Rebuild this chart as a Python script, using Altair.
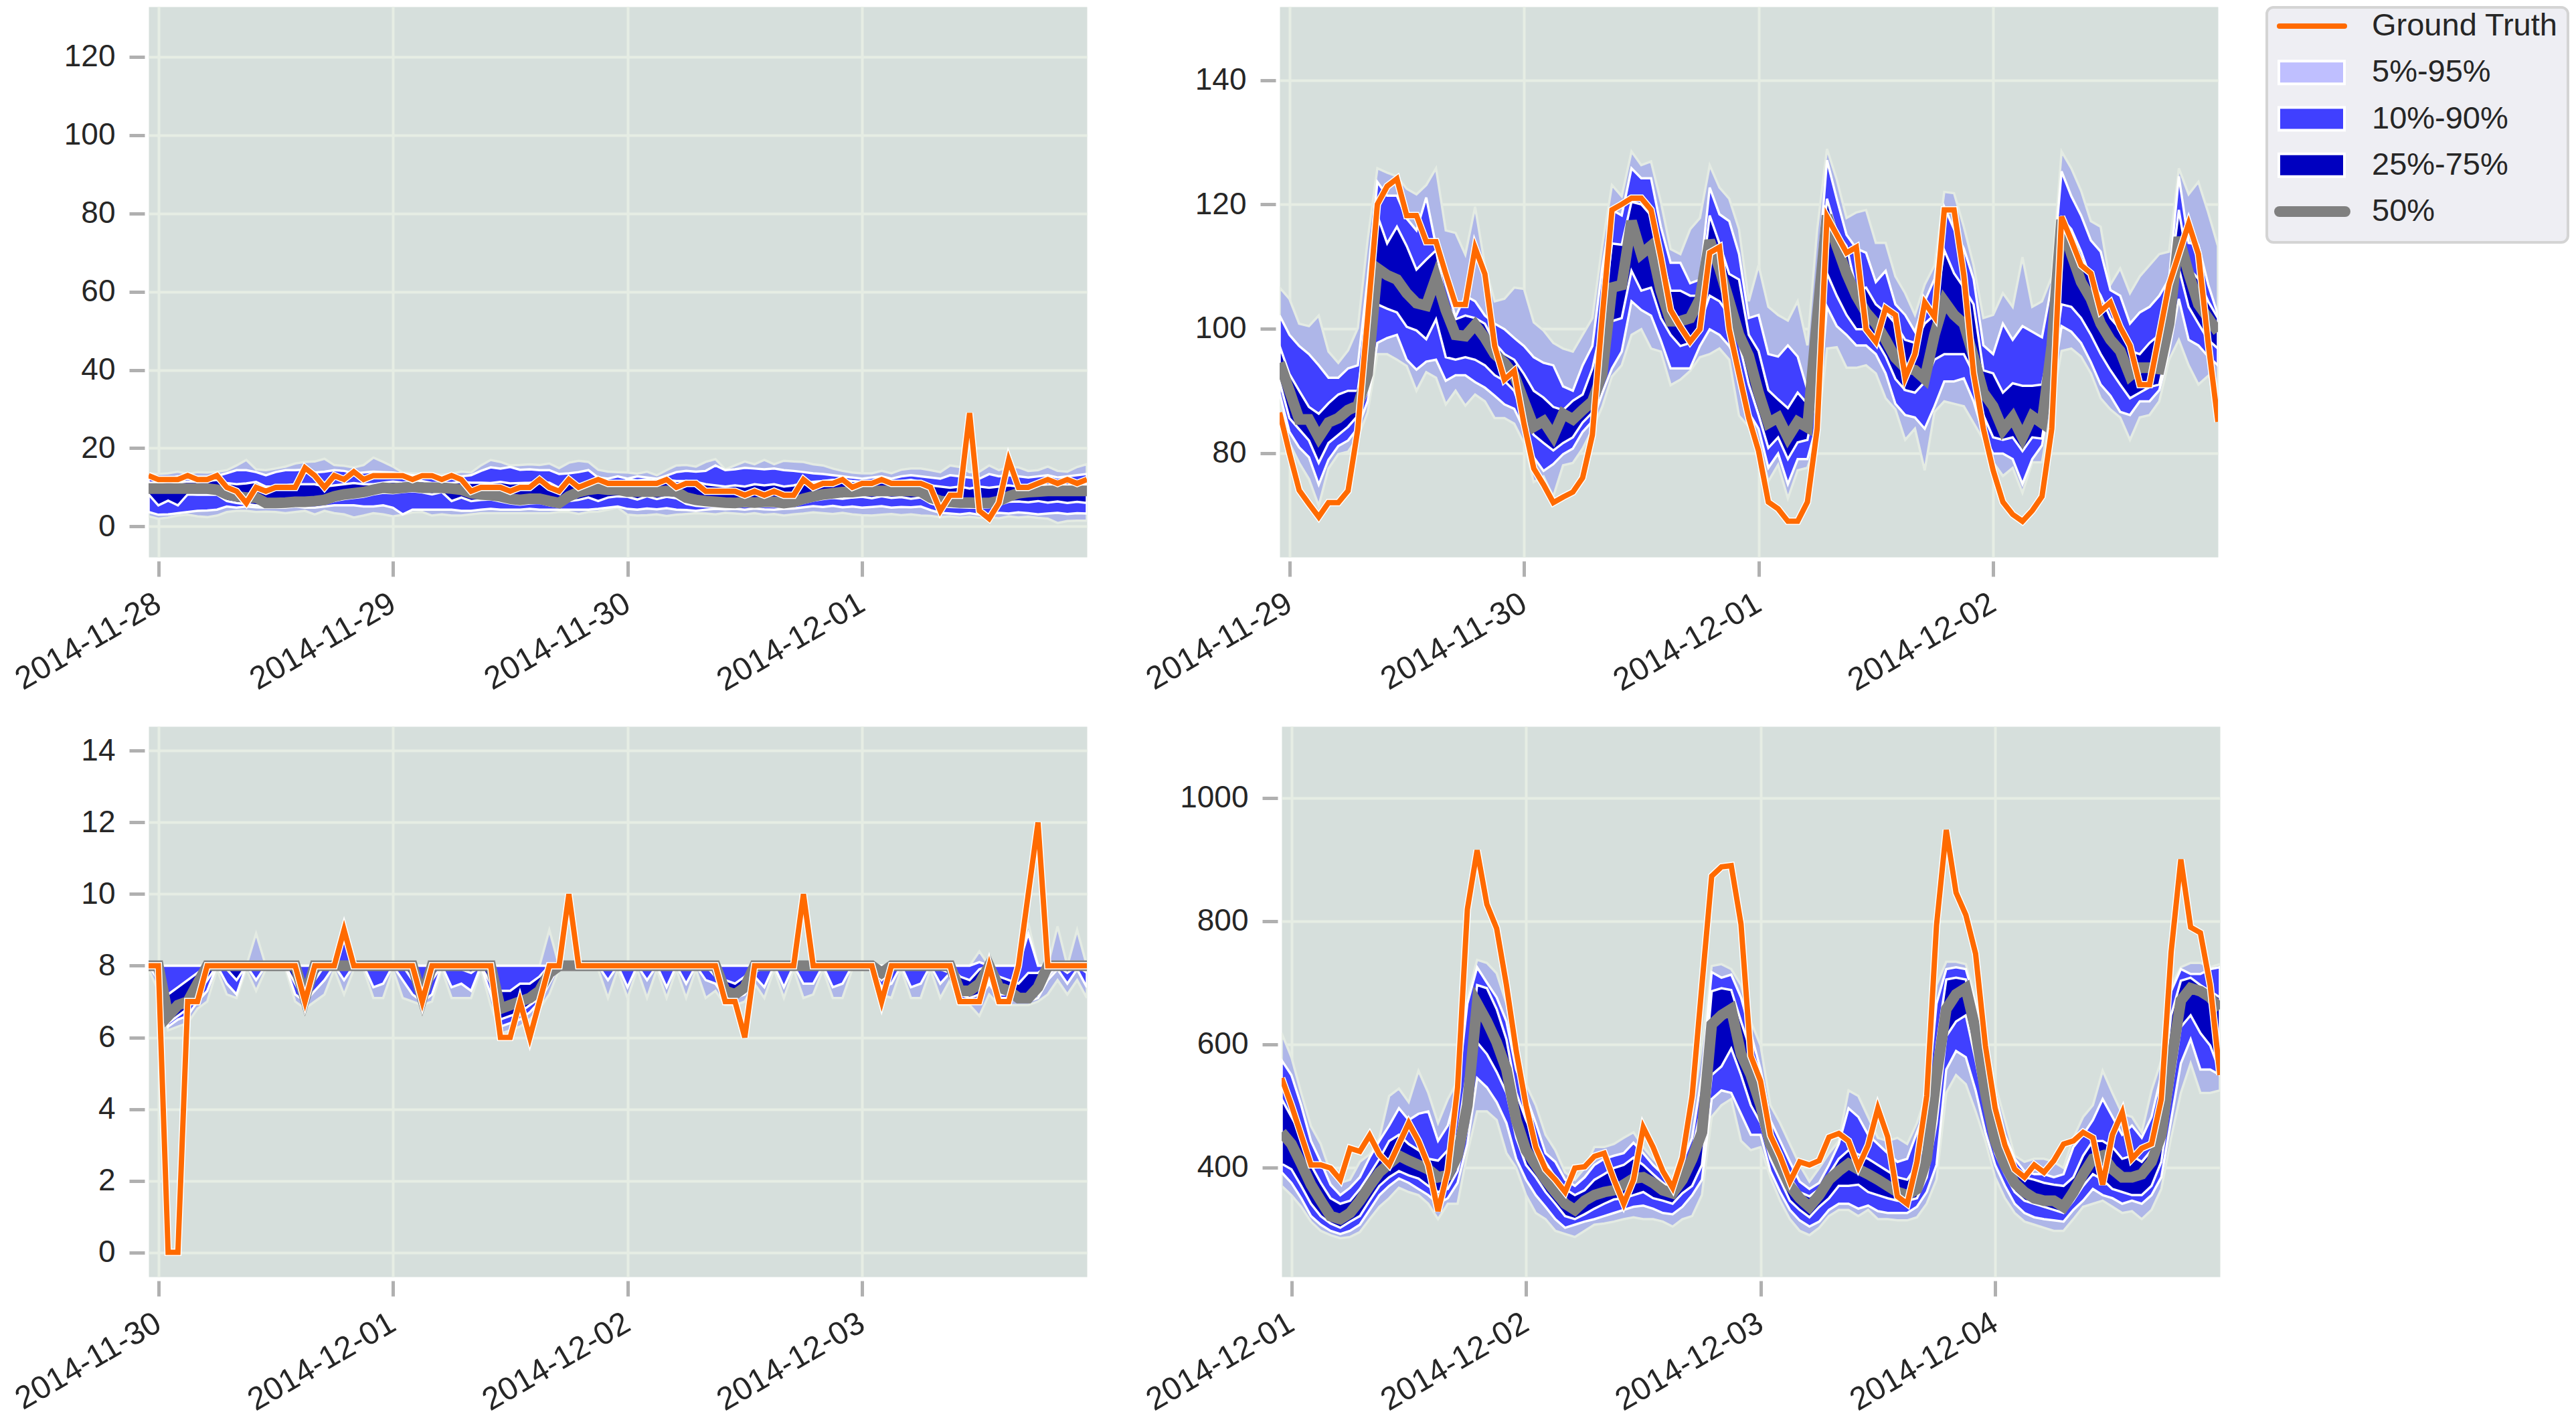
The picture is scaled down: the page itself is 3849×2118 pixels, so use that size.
import altair as alt
import pandas as pd

# ---------------- style ----------------
FONT = "Liberation Sans"
BG = "#d6dfdc"
GRID = "#e6ede4"
LIGHT = "#aeb6e8"
LIGHT_EDGE = "#e4ebe3"
MED = "#4040ff"
DARK = "#0000c0"
GRAY = "#808080"
ORANGE = "#ff6a00"

# ---------------- data ----------------
TL_START = "2014-11-27 23:00"
TR_START = "2014-11-28 23:00"
BL_START = "2014-11-29 23:00"
BR_START = "2014-11-30 23:00"

TL_DAYS = ["2014-11-28", "2014-11-29", "2014-11-30", "2014-12-01"]
TR_DAYS = ["2014-11-29", "2014-11-30", "2014-12-01", "2014-12-02"]
BL_DAYS = ["2014-11-30", "2014-12-01", "2014-12-02", "2014-12-03"]
BR_DAYS = ["2014-12-01", "2014-12-02", "2014-12-03", "2014-12-04"]

TL_YTICKS = [0, 20, 40, 60, 80, 100, 120]
TR_YTICKS = [80, 100, 120, 140]
BL_YTICKS = [0, 2, 4, 6, 8, 10, 12, 14]
BR_YTICKS = [400, 600, 800, 1000]

TL_YDOMAIN = [-7.8, 132.8]
TR_YDOMAIN = [63.25, 151.8]
BL_YDOMAIN = [-0.68, 14.68]
BR_YDOMAIN = [222.5, 1116.0]

LEGEND_LABELS = ["Ground Truth", "5%-95%", "10%-90%", "25%-75%", "50%"]
BAND_LABELS = ["5%-95%", "10%-90%", "25%-75%"]
BAND_SWATCH_COLORS = ["#bfbfff", "#4040ff", "#0000c0"]

# ---- top-left panel ----
TL_TRUTH = [13, 12, 12, 12, 13, 12, 12, 13, 10, 9,
            6, 10, 9, 10, 10, 10, 15, 13, 10, 13,
            12, 14, 12, 13, 13, 13, 13, 12, 13, 13,
            12, 13, 12, 9, 10, 10, 10, 9, 10, 10,
            12, 10, 9, 12, 10, 11, 12, 11, 11,
            11, 11, 11, 11, 12, 10, 11, 11, 9, 9,
            9, 9, 8, 9, 8, 9, 8, 8, 12, 10,
            11, 11, 12, 10, 11, 11, 12, 11, 11, 11,
            11, 10, 4, 8, 8, 29, 4, 2, 6, 17,
            10, 10, 11, 12, 11, 12, 11, 12]
TL_P50 = [9.7, 9.7, 9.7, 9.7, 9.7, 9.7, 9.7, 9.4, 8.2, 7.7,
          7.4, 7.4, 6.0, 6.0, 6.1, 6.3, 6.3, 6.5, 6.8, 7.7,
          8.2, 8.5, 8.8, 9.4, 9.9, 9.7, 9.9, 10.2, 9.9, 9.9,
          9.9, 9.7, 9.4, 8.5, 8.2, 8.0, 7.7, 7.1, 6.8, 7.1,
          7.1, 6.5, 6.0, 7.7, 8.8, 9.4, 9.7, 9.4, 9.4,
          8.9, 8.9, 8.9, 8.9, 9.1, 8.9, 7.4, 6.8, 6.5, 6.3,
          6.1, 6.0, 6.3, 6.1, 6.3, 6.3, 6.0, 6.3, 7.1, 7.7,
          8.2, 8.5, 8.8, 8.8, 9.1, 9.1, 9.1, 9.1, 9.1, 9.1,
          8.9, 7.4, 6.5, 6.3, 6.1, 6.1, 6.0, 6.0, 6.5, 7.7,
          8.5, 8.8, 8.9, 9.1, 9.1, 9.1, 9.1, 9.1]
TL_P95 = [13.6, 13.4, 13.6, 14.0, 13.4, 13.9, 13.8, 14.0, 14.4, 15.6,
          17.0, 14.6, 14.4, 14.8, 15.3, 16.1, 16.5, 16.6, 17.3, 15.7,
          15.5, 15.1, 15.7, 17.6, 16.5, 15.3, 13.8, 13.6, 13.5, 13.4,
          13.2, 13.5, 14.0, 13.8, 15.6, 17.0, 16.5, 15.6, 15.7, 15.9,
          15.7, 16.1, 14.9, 16.3, 16.8, 16.5, 14.5, 14.0, 13.9,
          13.8, 13.5, 14.0, 13.1, 14.4, 15.6, 15.7, 15.3, 16.5, 17.2,
          14.6, 15.6, 16.6, 15.9, 17.0, 15.9, 16.8, 16.6, 16.5, 15.9,
          15.6, 14.8, 14.2, 13.8, 13.6, 13.6, 14.2, 13.6, 14.5, 14.8,
          14.8, 14.4, 13.9, 15.6, 15.2, 13.9, 14.0, 15.6, 14.4, 15.2,
          15.1, 14.2, 14.4, 15.3, 14.2, 14.0, 15.2, 15.9]
TL_P90 = [12.2, 11.9, 12.2, 12.8, 12.2, 12.7, 12.7, 12.9, 13.6, 14.4,
          14.4, 13.9, 13.1, 13.9, 14.4, 14.4, 14.5, 13.8, 14.0, 14.4,
          14.2, 13.6, 13.8, 14.0, 13.9, 13.8, 13.4, 13.1, 12.8, 13.1,
          12.7, 13.2, 12.8, 13.1, 14.2, 15.1, 14.8, 15.2, 14.5, 14.6,
          14.4, 14.4, 13.4, 13.6, 13.9, 14.4, 12.5, 12.2, 12.8,
          12.2, 12.8, 12.5, 12.2, 13.0, 13.9, 14.2, 14.0, 14.2, 15.6,
          14.4, 14.6, 15.0, 14.8, 14.6, 14.8, 14.4, 14.2, 13.9, 13.6,
          13.4, 13.1, 12.8, 12.5, 12.2, 12.5, 12.8, 12.2, 12.8, 13.1,
          12.8, 12.5, 12.2, 13.1, 12.8, 12.5, 12.2, 13.4, 12.8, 13.1,
          12.8, 12.5, 12.8, 13.1, 12.5, 12.8, 13.1, 13.4]
TL_P75 = [11.2, 11.2, 11.5, 11.2, 11.5, 11.4, 11.6, 11.9, 11.1, 10.8,
          11.0, 11.4, 10.2, 10.2, 10.5, 10.8, 10.8, 10.8, 10.2, 10.5,
          10.8, 11.1, 10.8, 10.8, 11.2, 11.5, 11.2, 11.4, 11.6, 11.1,
          11.2, 11.1, 11.4, 11.2, 11.2, 11.1, 11.4, 11.0, 11.1, 11.2,
          11.4, 11.2, 9.9, 11.1, 10.5, 11.1, 11.0, 10.8, 10.2,
          12.0, 11.8, 12.0, 11.6, 11.9, 11.6, 11.6, 11.4, 10.8, 10.5,
          10.2, 10.5, 10.2, 10.8, 10.5, 10.8, 10.2, 10.5, 11.1, 11.4,
          11.6, 11.9, 11.9, 11.6, 11.4, 11.6, 11.9, 11.4, 11.6, 11.9,
          11.4, 10.5, 10.2, 9.9, 10.2, 9.7, 10.2, 9.9, 10.2, 10.5,
          10.2, 10.5, 10.8, 10.5, 10.8, 10.5, 10.8, 10.5]
TL_P25 = [8.2, 5.4, 6.6, 5.4, 8.2, 8.1, 8.1, 8.1, 6.5, 6.0,
          5.7, 5.4, 5.1, 5.4, 5.2, 5.3, 5.4, 5.6, 5.8, 6.5,
          7.0, 7.3, 7.6, 8.2, 8.6, 8.5, 8.8, 9.0, 8.7, 8.2,
          8.8, 6.5, 7.4, 6.5, 6.8, 6.9, 6.4, 5.9, 5.6, 5.9,
          6.0, 5.4, 5.0, 6.5, 6.8, 7.4, 6.5, 7.4, 7.7,
          7.6, 6.9, 7.7, 7.0, 7.6, 7.2, 5.8, 5.3, 5.1, 5.0,
          4.9, 5.0, 5.2, 5.0, 5.2, 5.1, 4.9, 5.2, 6.0, 6.6,
          7.0, 7.3, 7.1, 7.4, 7.6, 7.2, 7.7, 7.3, 7.5, 7.1,
          7.4, 5.9, 5.2, 5.0, 4.9, 4.8, 4.8, 4.9, 5.5, 6.3,
          6.4, 6.2, 6.5, 6.1, 6.4, 6.0, 6.3, 6.0]
TL_P10 = [3.7, 3.0, 3.1, 3.4, 3.7, 4.0, 4.1, 4.3, 5.1, 4.8,
          5.1, 4.9, 4.8, 4.8, 4.8, 5.1, 4.8, 4.8, 5.1, 5.4,
          5.4, 5.4, 5.1, 5.1, 5.4, 4.8, 3.1, 4.3, 4.3, 4.3,
          4.3, 4.3, 4.0, 4.0, 4.3, 4.5, 4.3, 4.3, 4.3, 4.5,
          4.3, 4.3, 4.3, 4.3, 4.3, 4.3, 4.5, 4.8, 5.1,
          4.5, 4.3, 4.6, 4.4, 4.7, 4.3, 4.2, 4.0, 4.3, 4.5,
          4.4, 4.5, 4.3, 4.6, 4.4, 4.3, 4.5, 4.6, 4.9, 5.2,
          5.0, 5.3, 4.9, 5.1, 4.8, 5.0, 5.2, 4.8, 5.0, 4.9,
          5.1, 4.2, 3.5, 3.3, 3.1, 3.4, 3.0, 3.2, 3.5, 3.3,
          3.6, 3.4, 3.1, 3.3, 3.5, 3.2, 3.4, 3.3]
TL_P05 = [2.6, 2.0, 2.3, 2.8, 3.0, 2.6, 2.4, 2.8, 3.7, 4.0,
          4.0, 3.7, 3.8, 3.7, 3.4, 3.7, 4.0, 3.1, 4.0, 3.4,
          3.1, 2.3, 2.8, 3.4, 3.1, 2.6, 3.0, 3.6, 3.7, 2.8,
          3.1, 2.8, 2.8, 3.1, 3.4, 3.4, 3.4, 3.4, 3.4, 3.4,
          3.4, 3.4, 3.7, 3.7, 3.2, 3.7, 3.8, 4.3, 4.8,
          3.0, 2.8, 2.9, 3.1, 2.7, 3.0, 3.2, 3.4, 3.3, 3.1,
          3.5, 3.3, 3.1, 3.4, 3.0, 3.2, 2.8, 3.1, 3.3, 3.6,
          3.4, 3.2, 3.5, 3.1, 2.9, 2.8, 3.0, 3.2, 2.9, 3.1,
          2.8, 2.7, 2.4, 2.6, 2.3, 2.5, 2.2, 2.4, 2.1, 2.6,
          2.3, 2.5, 2.2, 2.0, 0.9, 1.4, 1.5, 1.5]

# ---- top-right panel ----
TR_TRUTH = [86.5, 80, 74, 71.8, 69.7, 72, 72, 73.9, 83.8, 101.7,
            120, 122.9, 124.1, 118.2, 118.2, 114, 114, 108.8, 103.9, 103.9,
            113, 108.8, 97.2, 91.8, 93.2, 84.7, 77.5, 74.9, 72, 72.9,
            73.7, 76, 82.9, 101.7, 119.1, 120, 121, 121, 119.1, 111.5,
            103, 100.3, 97.9, 99.9, 112.2, 113.1, 99.9, 92.7, 85.6,
            80.3, 72.1, 71, 69, 69, 72.1, 83.9, 118, 115.1, 112.2,
            113.1, 99.9, 97.9, 103.3, 102.2, 92.1, 95.9, 104.2, 101.9, 119.1,
            119.1, 108.6, 92.8, 83.9, 77.2, 72.1, 70.1, 69, 70.7, 73,
            83.9, 118, 114.2, 110.2, 108.9, 102.8, 104.2, 100.2, 97.3, 91,
            91, 99, 107.1, 112, 116.9, 112, 97.7, 85]
TR_P50 = [94.5, 90, 85.4, 85.4, 82.5, 84.9, 85.6, 86.9, 87.6, 92.7,
          109.7, 108.6, 107.9, 105.7, 104.1, 103.7, 108.2, 103, 99, 98.8,
          100.6, 98.5, 95.9, 94.5, 92.5, 88.3, 84.2, 85.1, 82.7, 86.3,
          85.4, 86.9, 88.3, 92.7, 106.6, 107, 117.3, 112, 113.3, 106.1,
          101.2, 101.2, 101.7, 104.8, 114.2, 109.7, 104.4, 99, 95.6,
          89.7, 84.8, 85.7, 82.5, 85, 84.1, 101.7, 118.2, 113.3, 108.9,
          105.3, 102.6, 100.8, 98.2, 95.3, 93.7, 93.3, 91.9, 99, 104.4,
          102.2, 100.8, 95.5, 89.7, 87.5, 83.7, 85.7, 82.5, 85.9, 84.8,
          97.3, 117.5, 112, 107.5, 104.8, 100.8, 98.2, 96.4, 92.4, 93.7,
          93.7, 93.5, 100.8, 114.7, 108.9, 103.9, 101.7, 99.5]
TR_P95 = [106.6, 104.8, 100.8, 100.4, 102.1, 96.3, 94.5, 96.5, 100.1, 114.2,
          125.8, 125.1, 124.5, 122.5, 121.6, 123.1, 125.8, 115.8, 115.4, 111.9,
          119.6, 110.2, 104.4, 104.8, 106.6, 106.4, 101, 99.7, 97.7, 96.8,
          96.3, 99, 101.7, 113.3, 123.1, 121.3, 128.5, 126.3, 126.9, 120.4,
          112.8, 112, 116, 117.8, 126.3, 122.7, 120.9, 116, 104.4,
          110.2, 103.5, 102.2, 101.3, 104.4, 97.3, 116, 128.9, 124, 117.8,
          118.7, 119.1, 113.8, 113.8, 108.4, 105.7, 102.2, 107.1, 110.2, 122,
          121.8, 116.4, 110.2, 101.7, 102.2, 105.7, 103.5, 111.5, 103.5, 104.4,
          108.4, 128.5, 125.8, 122.2, 117.3, 116.4, 107.1, 109.7, 105.7, 108.4,
          110.2, 112, 112.4, 125.8, 121.6, 123.6, 118.7, 113.3]
TR_P90 = [102.1, 99, 97.2, 95.9, 94.1, 92.1, 92.1, 93.6, 94.1, 107.9,
          123.6, 121.4, 121.4, 117.7, 115.8, 121.1, 113.3, 107, 101.9, 105.3,
          104.4, 102.1, 100.8, 99.9, 98.5, 97.2, 95.4, 94.5, 94.1, 90.7,
          90, 94.1, 97.2, 109.7, 119.1, 118.2, 125.8, 124.2, 124.2, 116.4,
          110.6, 110.6, 107.3, 107.9, 122.7, 118.4, 117.3, 112, 101.7,
          102.2, 95.9, 95.5, 97.3, 95.5, 90.1, 107.5, 127.1, 120.9, 115.1,
          112.9, 112.2, 107.5, 109.3, 103.9, 102.2, 99.5, 104.4, 108, 119.6,
          116, 112.9, 108, 97.3, 95.9, 100.8, 98.2, 100.4, 99.5, 98.6,
          107.1, 125.3, 121.3, 118.2, 114.2, 112.4, 106.2, 105.3, 100.8, 102.6,
          103.5, 105.3, 108, 124.5, 113.8, 113.5, 107.1, 102.2]
TR_P75 = [97.2, 92.7, 90, 87.4, 86.3, 88, 89.4, 90, 90, 101.7,
          118.2, 113.7, 116.4, 113.3, 109.5, 111.1, 112.6, 104.4, 101.5, 102.1,
          101.7, 100.8, 97.7, 95.9, 95, 92.7, 90, 88.9, 87.4, 86.9,
          88.4, 89.4, 93.6, 100.8, 113.7, 113.5, 120.4, 120, 118.2, 112,
          106.1, 106.1, 105.3, 105.3, 118.2, 113.7, 108.8, 107.9, 99,
          96.4, 90.1, 88.6, 87.2, 89.7, 87.9, 104, 120.9, 115.5, 113.3,
          106.2, 106.6, 103.9, 102.6, 100.8, 98.2, 97.7, 100.8, 102.2, 112.6,
          108.9, 106.6, 103.9, 93.3, 92.8, 89.7, 91.2, 90.8, 90.8, 91,
          98.6, 117.8, 116, 112.4, 108, 105.3, 101.7, 99.9, 96.4, 95.9,
          97.7, 99, 106.6, 119.1, 109.7, 108, 104.4, 101.7]
TR_P25 = [91.4, 85.6, 83.8, 82, 78.4, 81.6, 82.9, 84.2, 86, 90,
          103.9, 103.2, 102.6, 100.3, 99.7, 98.3, 101.5, 95.4, 95, 95.4,
          95, 94.1, 92.5, 91.6, 90, 85.6, 82.9, 81.6, 80.4, 81.6,
          82.5, 84.9, 86.5, 91.8, 101.2, 101.7, 109.3, 106.1, 106.6, 101.7,
          99, 97.2, 97.7, 100.8, 105.3, 104.4, 102.1, 97.7, 91,
          86.1, 80.8, 82.5, 79, 81.7, 82.1, 90.1, 108.9, 105.3, 102.2,
          99.9, 99.9, 98.2, 95.5, 91.9, 90.1, 89.7, 91.4, 95, 95.9,
          95.9, 95.9, 92.8, 86.1, 82.5, 82.1, 82.5, 80.3, 82.5, 82.3,
          92.8, 103.9, 103.5, 101.7, 99, 95.9, 93.3, 91, 88.8, 89.7,
          90.6, 91, 98.2, 109.7, 103.5, 100.8, 98.2, 96.8]
TR_P10 = [89.6, 83.4, 80.9, 79.3, 74.9, 78.9, 81.1, 82, 84, 88.3,
          97.7, 98.5, 99, 95, 93.4, 94.7, 95, 91.6, 92.5, 92.5,
          91.4, 90.5, 89.2, 87.8, 87.1, 83.8, 79.3, 77.1, 78.2, 79.8,
          80.7, 83.4, 85.1, 89.6, 93.6, 96.3, 104.4, 103, 102.1, 98.1,
          93.6, 93.6, 93.6, 97.2, 99.9, 99, 97.2, 94.5, 86.5,
          83.9, 77.6, 79.9, 75, 79, 79, 84.8, 103.5, 100.4, 99,
          97.3, 97.3, 95.9, 92.8, 87.9, 86.1, 85.7, 83.9, 87.5, 91.5,
          91.5, 92, 88.3, 83, 79.9, 79.9, 79, 75, 79, 81.2,
          90.1, 100.4, 99.5, 97.7, 94.6, 91, 89.2, 86.6, 86.1, 88.3,
          88.3, 90.1, 96.4, 104.8, 98.2, 97.3, 95.5, 94.1]
TR_P05 = [88.3, 81.6, 78.4, 75.8, 71.5, 77.5, 79.8, 80.2, 82.5, 86.5,
          95.9, 95.9, 95, 94, 90, 93, 92.1, 87.8, 90, 87.6,
          89.4, 88.3, 85.6, 85.6, 84.7, 81.6, 75.3, 76.2, 73, 78,
          78.4, 80.7, 83.8, 87.4, 92.3, 94.1, 99, 99.9, 96.8, 96.3,
          90.9, 91.8, 93.2, 95.4, 95.9, 96.8, 95, 86, 84.2,
          81.7, 75.4, 78.1, 72.7, 77.2, 77.6, 82.5, 96.8, 97, 93.7,
          93.7, 94.1, 92.8, 88.8, 87, 82.1, 83.9, 77.2, 86.6, 88.3,
          87.9, 87.5, 84.8, 82.1, 78.5, 76.3, 77.6, 73.6, 78.5, 78.5,
          87.5, 96.4, 96.8, 95.5, 92.8, 88.8, 87, 85.7, 82.1, 85.7,
          86.1, 88.3, 95, 98.2, 94.1, 91, 92.4, 90.6]

# ---- bottom-left panel ----
BL_TRUTH = [8, 8, 0, 0, 7, 7, 8, 8, 8, 8,
            8, 8, 8, 8, 8, 8, 7, 8, 8, 8,
            9, 8, 8, 8, 8, 8, 8, 8, 7, 8,
            8, 8, 8, 8, 8, 8, 6, 6, 7, 6,
            7, 8, 8, 10, 8, 8, 8, 8, 8,
            8, 8, 8, 8, 8, 8, 8, 8, 8, 8,
            7, 7, 6, 8, 8, 8, 8, 8, 10, 8,
            8, 8, 8, 8, 8, 8, 7, 8, 8, 8,
            8, 8, 8, 8, 7, 7, 7, 8, 7, 7,
            8, 10, 12, 8, 8, 8, 8, 8]
BL_P50 = [8, 8, 6.6, 6.9, 7.0, 7.5, 8, 8, 8, 8,
          8, 8, 8, 8, 8, 8, 7.1, 8, 8, 8,
          8, 8, 8, 8, 8, 8, 8, 8, 7.1, 8,
          8, 8, 8, 8, 8, 8, 6.8, 6.9, 7.0, 7.1,
          7.3, 7.8, 8, 8, 8, 8, 8, 8, 8,
          8, 8, 8, 8, 8, 8, 8, 8, 8, 8,
          7.3, 7.2, 7.4, 8, 8, 8, 8, 8, 8, 8,
          8, 8, 8, 8, 8, 8, 7.8, 8, 8, 8,
          8, 8, 8, 8, 7.3, 7.3, 7.5, 8, 7.4, 7.3,
          7.1, 7.1, 7.4, 8, 8, 8, 8, 8]
BL_P95 = [8, 8, 8, 8, 8, 8, 8, 8, 8, 8,
          8, 8.9, 8, 8, 8, 8, 8, 8, 8, 8,
          9.0, 8, 8, 8, 8, 8, 8, 8, 8, 8,
          8, 8, 8, 8, 8, 8, 8, 8, 8, 8,
          8, 9.0, 8, 8, 8, 8, 8, 8, 8,
          8, 8, 8, 8, 8, 8, 8, 8, 8, 8,
          8, 8, 8, 8, 8, 8, 8, 8, 8, 8,
          8, 8, 8, 8, 8, 8, 8, 8, 8, 8,
          8, 8, 8, 8, 8, 8, 8.4, 8, 8, 8,
          8, 9.2, 8, 8, 9.1, 8, 9.0, 8]
BL_P90 = [8, 8, 8, 8, 8, 8, 8, 8, 8, 8,
          8, 8, 8, 8, 8, 8, 8, 8, 8, 8,
          8.9, 8, 8, 8, 8, 8, 8, 8, 8, 8,
          8, 8, 8, 8, 8, 8, 8, 8, 8, 8,
          8, 8, 8, 8, 8, 8, 8, 8, 8,
          8, 8, 8, 8, 8, 8, 8, 8, 8, 8,
          8, 8, 8, 8, 8, 8, 8, 8, 8, 8,
          8, 8, 8, 8, 8, 8, 8, 8, 8, 8,
          8, 8, 8, 8, 8, 8, 8.1, 8, 8, 8,
          8, 8.9, 8, 8, 8, 8, 8, 8]
BL_P75 = [8, 8, 7.2, 7.4, 7.6, 7.8, 8, 8, 8, 8,
          8, 8, 8, 8, 8, 8, 7.5, 8, 8, 8,
          8, 8, 8, 8, 8, 8, 8, 8, 7.5, 8,
          8, 8, 8, 8, 8, 8, 7.3, 7.3, 7.5, 7.5,
          7.7, 8, 8, 8, 8, 8, 8, 8, 8,
          8, 8, 8, 8, 8, 8, 8, 8, 8, 8,
          7.6, 7.5, 7.7, 8, 8, 8, 8, 8, 8, 8,
          8, 8, 8, 8, 8, 8, 8, 8, 8, 8,
          8, 8, 8, 8, 7.7, 7.6, 7.9, 8, 7.7, 7.6,
          7.5, 7.8, 7.8, 8, 8, 8, 8, 8]
BL_P25 = [8.0, 7.8, 6.4, 6.6, 6.8, 7.2, 7.6, 8.0, 7.9, 7.6,
          8.0, 8.0, 8.0, 8.0, 8.0, 7.5, 7.0, 7.6, 8.0, 8.0,
          8.0, 8.0, 8.0, 7.9, 7.9, 8.0, 8.0, 7.6, 7.0, 7.6,
          8.0, 7.9, 7.9, 7.8, 8.0, 7.5, 6.5, 6.6, 6.7, 6.9,
          7.1, 7.6, 8.0, 8.0, 8.0, 8.0, 8.0, 8.0, 8.0,
          8.0, 8.0, 8.0, 8.0, 7.9, 8.0, 7.9, 8.0, 8.0, 7.7,
          7.2, 7.1, 7.3, 7.8, 8.0, 8.0, 7.9, 8.0, 7.9, 7.9,
          8.0, 7.9, 7.9, 8.0, 8.0, 8.0, 7.6, 7.9, 8.0, 7.9,
          7.9, 8.0, 7.9, 7.8, 7.2, 7.1, 7.2, 7.6, 7.2, 7.2,
          7.0, 7.0, 7.2, 7.7, 8.0, 7.8, 8.0, 7.8]
BL_P10 = [8.0, 7.6, 6.3, 6.5, 6.6, 7.0, 7.3, 8.0, 7.5, 7.2,
          8.0, 7.6, 8.0, 8.0, 8.0, 7.2, 7.0, 7.3, 7.6, 8.0,
          7.6, 8.0, 8.0, 7.4, 7.5, 8.0, 7.6, 7.2, 7.0, 7.2,
          8.0, 7.4, 7.5, 7.3, 8.0, 7.2, 6.3, 6.4, 6.5, 6.7,
          7.0, 7.5, 8.0, 8.0, 8.0, 8.0, 8.0, 7.6, 8.0,
          7.4, 8.0, 7.6, 8.0, 7.4, 8.0, 7.5, 8.0, 7.6, 7.5,
          7.1, 7.1, 7.2, 7.7, 7.4, 8.0, 7.4, 8.0, 7.5, 7.5,
          8.0, 7.4, 7.5, 8.0, 8.0, 8.0, 7.4, 7.5, 8.0, 7.4,
          7.5, 8.0, 7.5, 7.8, 7.1, 7.0, 7.1, 7.5, 7.1, 7.1,
          7.0, 7.0, 7.1, 7.6, 7.9, 7.5, 7.9, 7.4]
BL_P05 = [7.9, 7.3, 6.2, 6.3, 6.4, 6.8, 7.0, 7.9, 7.2, 7.1,
          7.9, 7.3, 7.9, 7.9, 7.9, 7.0, 6.8, 7.0, 7.2, 7.9,
          7.2, 7.9, 7.9, 7.1, 7.1, 7.9, 7.1, 7.0, 6.9, 7.0,
          7.9, 7.1, 7.1, 7.1, 7.9, 6.9, 6.1, 6.2, 6.3, 6.5,
          6.8, 7.2, 7.9, 7.9, 7.9, 7.9, 7.9, 7.1, 7.9,
          7.1, 7.9, 7.1, 7.9, 7.1, 7.9, 7.1, 7.9, 7.1, 7.3,
          6.9, 6.9, 7.0, 7.5, 7.1, 7.9, 7.1, 7.9, 7.1, 7.2,
          7.9, 7.1, 7.1, 7.9, 7.9, 7.9, 7.2, 7.1, 7.9, 7.1,
          7.1, 7.9, 7.1, 7.6, 6.9, 6.9, 6.6, 7.2, 6.9, 6.9,
          6.9, 6.9, 7.0, 7.2, 7.6, 7.2, 7.6, 7.1]

# ---- bottom-right panel ----
BR_TRUTH = [545, 501, 452.5, 404, 404, 399, 380, 431, 426, 452,
            421, 404, 438, 472, 443, 404, 329, 394, 530, 819,
            915, 827, 788, 696, 589, 501, 433, 397, 380, 360,
            399, 401, 418, 423, 380, 341, 380, 465, 433, 394,
            367, 416, 516, 696, 873, 888, 890, 795, 581,
            540, 452, 418, 377, 409, 404, 411, 449, 455, 443,
            401, 436, 496, 450, 353, 341, 409, 516, 793, 948,
            846, 810, 747, 598, 496, 436, 397, 384, 404, 392,
            411, 438, 443, 457, 448, 372, 453, 489, 414, 431,
            438, 511, 749, 900, 790, 781, 696, 550]
BR_P50 = [457, 438, 406, 372, 346, 321, 316, 326, 346, 370,
          392, 406, 419, 411, 404, 397, 384, 387, 419, 501,
          666, 637, 603, 559, 477, 428, 404, 380, 360, 341,
          331, 346, 355, 360, 363, 372, 382, 384, 375, 363,
          358, 380, 414, 457, 632, 647, 657, 584, 550,
          501, 438, 404, 370, 350, 336, 355, 380, 394, 406,
          397, 389, 380, 370, 360, 355, 365, 414, 550, 657,
          681, 691, 623, 521, 443, 404, 375, 360, 350, 346,
          346, 336, 360, 389, 414, 419, 397, 384, 384, 389,
          409, 453, 569, 671, 691, 686, 676, 657]
BR_P95 = [618, 579, 521, 467, 438, 392, 375, 380, 409, 421,
          448, 516, 528, 506, 557, 521, 472, 511, 540, 676,
          737, 732, 715, 666, 575, 535, 501, 453, 428, 392,
          380, 399, 433, 433, 438, 448, 457, 433, 414, 399,
          384, 428, 487, 598, 727, 730, 722, 696, 637,
          598, 501, 472, 438, 404, 377, 399, 423, 443, 525,
          516, 482, 448, 443, 448, 438, 472, 521, 696, 734,
          734, 730, 676, 608, 535, 477, 419, 409, 414, 414,
          409, 399, 448, 482, 501, 557, 521, 487, 482, 457,
          525, 574, 696, 725, 732, 732, 725, 730]
BR_P90 = [574, 550, 501, 443, 409, 372, 355, 367, 384, 416,
          443, 468, 496, 477, 487, 491, 443, 468, 525, 666,
          725, 700, 676, 637, 559, 516, 472, 423, 409, 380,
          370, 384, 404, 414, 419, 423, 440, 423, 404, 389,
          375, 409, 448, 550, 717, 708, 713, 676, 618,
          559, 477, 443, 409, 377, 365, 375, 404, 438, 496,
          482, 453, 438, 423, 409, 414, 457, 501, 666, 722,
          725, 722, 666, 589, 521, 453, 414, 394, 389, 389,
          384, 389, 433, 453, 477, 511, 482, 453, 468, 448,
          482, 550, 686, 722, 714, 714, 722, 725]
BR_P75 = [511, 482, 453, 404, 375, 350, 341, 346, 365, 389,
          414, 443, 453, 438, 428, 414, 411, 428, 453, 559,
          696, 691, 657, 608, 521, 477, 443, 409, 384, 365,
          355, 363, 380, 389, 399, 404, 416, 404, 389, 375,
          363, 394, 428, 501, 686, 691, 688, 637, 589,
          530, 453, 419, 384, 360, 353, 365, 389, 414, 428,
          421, 414, 404, 394, 384, 380, 404, 453, 598, 705,
          708, 705, 628, 559, 487, 433, 399, 384, 380, 375,
          372, 370, 384, 419, 443, 443, 433, 414, 419, 409,
          428, 501, 647, 703, 708, 696, 686, 676]
BR_P25 = [406, 397, 370, 341, 321, 309, 302, 312, 321, 346,
          370, 384, 394, 387, 382, 370, 360, 365, 394, 463,
          603, 584, 555, 521, 448, 404, 384, 360, 341, 321,
          316, 324, 333, 341, 348, 350, 355, 360, 350, 346,
          341, 358, 370, 404, 550, 564, 593, 550, 501,
          472, 414, 380, 346, 331, 319, 336, 350, 370, 370,
          372, 360, 355, 350, 346, 346, 350, 384, 472, 613,
          637, 647, 574, 491, 423, 389, 360, 346, 341, 336,
          331, 326, 346, 370, 389, 380, 365, 360, 355, 355,
          370, 409, 521, 628, 647, 618, 598, 555]
BR_P10 = [392, 375, 350, 321, 307, 297, 292, 297, 307, 331,
          355, 370, 382, 375, 365, 355, 341, 350, 375, 438,
          545, 530, 506, 472, 414, 380, 355, 336, 316, 302,
          307, 312, 316, 321, 326, 331, 336, 338, 333, 326,
          324, 336, 355, 380, 511, 525, 521, 487, 453,
          453, 394, 360, 331, 314, 304, 312, 331, 341, 341,
          333, 338, 329, 326, 326, 326, 336, 360, 404, 559,
          589, 579, 525, 457, 404, 370, 341, 326, 319, 316,
          314, 312, 331, 346, 365, 355, 350, 341, 346, 341,
          355, 384, 477, 569, 608, 559, 559, 550]
BR_P05 = [370, 355, 336, 312, 297, 290, 285, 287, 295, 316,
          336, 350, 367, 360, 355, 341, 316, 341, 341, 423,
          491, 491, 477, 423, 399, 355, 326, 316, 297, 292,
          287, 297, 307, 309, 312, 316, 319, 316, 316, 312,
          304, 316, 321, 355, 482, 501, 511, 443, 428,
          433, 384, 346, 316, 297, 290, 302, 321, 331, 331,
          321, 331, 316, 316, 314, 314, 319, 341, 380, 521,
          550, 535, 491, 443, 384, 350, 326, 312, 307, 302,
          297, 297, 316, 336, 341, 346, 336, 326, 329, 316,
          331, 365, 448, 521, 569, 521, 521, 525]


# ---------------- chart helpers ----------------
def to_dt(value):
    t = pd.Timestamp(value)
    return alt.DateTime(year=t.year, month=t.month, date=t.day, hours=t.hour)


def panel(start, truth, p05, p10, p25, p50, p75, p90, p95, days, yticks, ydomain):
    times = pd.date_range(start, periods=len(truth), freq="h")
    df = pd.DataFrame({
        "time": times, "truth": truth, "p05": p05, "p10": p10, "p25": p25,
        "p50": p50, "p75": p75, "p90": p90, "p95": p95,
    })
    xaxis = alt.Axis(
        values=[to_dt(d) for d in days], format="%Y-%m-%d", labelAngle=330,
        labelAlign="right", labelBaseline="top", labelOffset=-12, labelPadding=16,
        labelFontSize=48, labelFlush=False, labelOverlap=False, labelLimit=0,
        offset=6, grid=True,
    )
    x = alt.X("time:T", title=None, axis=xaxis,
              scale=alt.Scale(domain=[to_dt(times[0]), to_dt(times[-1])], nice=False))
    ysc = alt.Scale(domain=ydomain, nice=False, zero=False)
    yax = alt.Axis(values=yticks, format="d", labelPadding=21, offset=6,
                   labelOverlap=False, labelLimit=0, grid=True)

    def Y(field):
        return alt.Y(field + ":Q", title=None, scale=ysc, axis=yax)

    base = alt.Chart(df)
    band95 = base.mark_area(fill=LIGHT, stroke=LIGHT_EDGE, strokeWidth=3.5, clip=True).encode(
        x=x, y=Y("p05"), y2=alt.Y2("p95:Q", title=None))
    band90 = base.mark_area(fill=MED, stroke="white", strokeWidth=3.5, clip=True).encode(
        x=x, y=Y("p10"), y2=alt.Y2("p90:Q", title=None))
    band75 = base.mark_area(fill=DARK, stroke="white", strokeWidth=3.5, clip=True).encode(
        x=x, y=Y("p25"), y2=alt.Y2("p75:Q", title=None))
    median = base.mark_line(color=GRAY, strokeWidth=16, clip=True).encode(x=x, y=Y("p50"))
    halo = base.mark_line(color="white", strokeWidth=11, clip=True).encode(x=x, y=Y("truth"))
    truth_line = base.mark_line(color=ORANGE, strokeWidth=8, clip=True).encode(x=x, y=Y("truth"))
    return alt.layer(band95, band90, band75, median, halo, truth_line).properties(
        width=1402, height=822, view=alt.ViewBackground(fill=BG, stroke="transparent"))


def legend_panel():
    leg = pd.DataFrame({"label": LEGEND_LABELS})
    ly = alt.Y("label:N", axis=None,
               scale=alt.Scale(type="point", domain=LEGEND_LABELS, range=[29, 306], padding=0))
    base = alt.Chart(leg)
    box = alt.Chart(pd.DataFrame({"k": [0]})).mark_rect(
        fill="#eeeef3", stroke="#d4d4d4", strokeWidth=4, cornerRadius=10).encode(
        x=alt.value(2), x2=alt.value(452), y=alt.value(1), y2=alt.value(352))
    gt = base.transform_filter(alt.datum.label == "Ground Truth").mark_rule(
        color=ORANGE, strokeWidth=8, strokeCap="round").encode(
        x=alt.value(21), x2=alt.value(118), y=ly)
    med = base.transform_filter(alt.datum.label == "50%").mark_rule(
        color=GRAY, strokeWidth=16, strokeCap="round").encode(
        x=alt.value(21), x2=alt.value(119), y=ly)
    bands = base.transform_filter(alt.FieldOneOfPredicate(field="label", oneOf=BAND_LABELS))
    sw_white = bands.mark_rule(color="white", strokeWidth=38).encode(
        x=alt.value(18), x2=alt.value(120), y=ly)
    sw_col = bands.mark_rule(strokeWidth=30).encode(
        x=alt.value(22), x2=alt.value(116), y=ly,
        color=alt.Color("label:N", legend=None,
                        scale=alt.Scale(domain=BAND_LABELS, range=BAND_SWATCH_COLORS)))
    text = base.mark_text(align="left", baseline="middle", font=FONT, fontSize=47,
                          color="#262626").encode(x=alt.value(159), y=ly, text="label:N")
    return alt.layer(box, gt, med, sw_white, sw_col, text).properties(
        width=454, height=355,
        view=alt.ViewBackground(fill="transparent", stroke="transparent"))


tl = panel(TL_START, TL_TRUTH, TL_P05, TL_P10, TL_P25, TL_P50, TL_P75, TL_P90, TL_P95,
           TL_DAYS, TL_YTICKS, TL_YDOMAIN)
tr = panel(TR_START, TR_TRUTH, TR_P05, TR_P10, TR_P25, TR_P50, TR_P75, TR_P90, TR_P95,
           TR_DAYS, TR_YTICKS, TR_YDOMAIN)
bl = panel(BL_START, BL_TRUTH, BL_P05, BL_P10, BL_P25, BL_P50, BL_P75, BL_P90, BL_P95,
           BL_DAYS, BL_YTICKS, BL_YDOMAIN)
br = panel(BR_START, BR_TRUTH, BR_P05, BR_P10, BR_P25, BR_P50, BR_P75, BR_P90, BR_P95,
           BR_DAYS, BR_YTICKS, BR_YDOMAIN)

top_row = alt.hconcat(alt.hconcat(tl, tr, spacing=79), legend_panel(), spacing=68)
bottom_row = alt.hconcat(bl, br, spacing=79)

chart = alt.vconcat(top_row, bottom_row, spacing=42).properties(
    padding={"left": 6, "top": 0, "right": 0, "bottom": 0},
).configure_axis(
    labelFont=FONT, labelFontSize=46, labelColor="#262626",
    tickColor="#b0b0b0", tickWidth=5, tickSize=23, domain=False,
    gridColor=GRID, gridWidth=4, gridOpacity=1,
)

chart.save("out.html", embed_options={"renderer": "svg", "actions": False})
